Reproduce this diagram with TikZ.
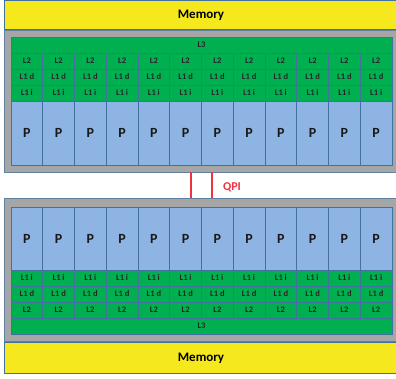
\documentclass[tikz,border=0pt]{standalone}
\usepackage{fontspec}
\setmainfont{Carlito}
\definecolor{memY}{HTML}{F5E81C}
\definecolor{chipG}{HTML}{A6A6A6}
\definecolor{cacheG}{HTML}{00B050}
\definecolor{coreB}{HTML}{8EB4E3}
\definecolor{edgeB}{HTML}{41719C}
\definecolor{qpiR}{HTML}{EE3340}
\tikzset{
  mem/.style={fill=memY,draw=edgeB,line width=0.6pt},
  chip/.style={fill=chipG,draw=edgeB!70!chipG,line width=0.6pt},
  cache/.style={fill=cacheG,draw=edgeB,line width=0.6pt},
  core/.style={fill=coreB,draw=edgeB,line width=0.6pt},
  ctext/.style={font=\bfseries\fontsize{8.5}{9}\selectfont,text=black!85},
  ptext/.style={font=\bfseries\fontsize{14}{15}\selectfont,text=black!90},
  mtext/.style={font=\bfseries\fontsize{13}{14}\selectfont,text=black},
  qpiline/.style={draw=qpiR,line width=2.2pt},
}
\begin{document}
\begin{tikzpicture}[x=1pt,y=-1pt]
\useasboundingbox (0,0) rectangle (396,379);
% top memory
\draw[mem] (4,0) rectangle (396,29.5);
\node[mtext] (memtop) at (201,15) {Memory};
% top chip
\draw[chip] (4,30) rectangle (396,172.5);
\draw[cache] (11,37) rectangle (392,53);
\node[ctext] (l3top) at (201.5,45) {L3};
\foreach \i in {0,...,11}{
  \pgfmathsetmacro{\xa}{11+\i*31.75}
  \pgfmathsetmacro{\xb}{11+(\i+1)*31.75}
  \pgfmathsetmacro{\xm}{11+(\i+0.5)*31.75}
  \draw[cache] (\xa,53) rectangle (\xb,69);
  \draw[cache] (\xa,69) rectangle (\xb,85);
  \draw[cache] (\xa,85) rectangle (\xb,101);
  \draw[core] (\xa,101) rectangle (\xb,165);
  \node[ctext] (tl2\i) at (\xm,61) {L2};
  \node[ctext] (tl1d\i) at (\xm,77) {L1 d};
  \node[ctext] (tl1i\i) at (\xm,93) {L1 i};
  \node[ptext] (tp\i) at (\xm,133) {P};
}
% bottom chip
\draw[chip] (4,198.5) rectangle (396,341.5);
\foreach \i in {0,...,11}{
  \pgfmathsetmacro{\xa}{11+\i*31.75}
  \pgfmathsetmacro{\xb}{11+(\i+1)*31.75}
  \pgfmathsetmacro{\xm}{11+(\i+0.5)*31.75}
  \draw[core] (\xa,207) rectangle (\xb,270);
  \draw[cache] (\xa,270) rectangle (\xb,286);
  \draw[cache] (\xa,286) rectangle (\xb,302);
  \draw[cache] (\xa,302) rectangle (\xb,318);
  \node[ptext] (bp\i) at (\xm,239) {P};
  \node[ctext] (bl1i\i) at (\xm,278) {L1 i};
  \node[ctext] (bl1d\i) at (\xm,294) {L1 d};
  \node[ctext] (bl2\i) at (\xm,310) {L2};
}
\draw[cache] (11,318) rectangle (392,334);
\node[ctext] (l3bot) at (201.5,326) {L3};
% bottom memory
\draw[mem] (4,342) rectangle (396,373);
\node[mtext] (membot) at (201,358) {Memory};
% QPI
\coordinate (qa1) at (191,172.5);
\coordinate (qa2) at (191,198.5);
\coordinate (qb1) at (212,172.5);
\coordinate (qb2) at (212,198.5);
\draw[qpiline] (qa1) -- (qa2);
\draw[qpiline] (qb1) -- (qb2);
\node[font=\bfseries\fontsize{12}{13}\selectfont,text=qpiR] (qpi) at (232,187) {QPI};
\end{tikzpicture}
\end{document}
